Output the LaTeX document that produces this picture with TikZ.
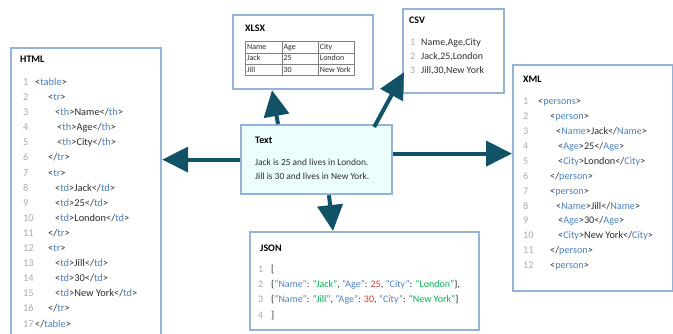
\documentclass[tikz,border=0pt]{standalone}
\usepackage{fontspec}
\setmainfont{Carlito}
\usepackage{colortbl}
\usetikzlibrary{arrows.meta, positioning, calc}

\definecolor{boxblue}{RGB}{149,179,215}
\definecolor{arrowteal}{RGB}{17,82,102}
\definecolor{textfill}{RGB}{235,255,255}
\definecolor{tagblue}{RGB}{79,129,189}
\definecolor{numgray}{RGB}{170,170,170}
\definecolor{codegray}{RGB}{45,45,45}
\definecolor{jsgreen}{RGB}{0,176,80}
\definecolor{jsred}{RGB}{200,60,60}

\newcommand{\lno}[2][12pt]{\makebox[#1][l]{\color{numgray}#2}}
\newcommand{\tg}[1]{{\color{tagblue}#1}}
\newcommand{\js}[1]{{\color{tagblue}#1}}
\newcommand{\jv}[1]{{\color{jsgreen}#1}}
\newcommand{\jn}[1]{{\color{jsred}#1}}

\begin{document}
\begin{tikzpicture}[
  x=1pt, y=-1pt,
  fmtbox/.style={draw=boxblue, line width=2.2pt, fill=white, anchor=north west, inner sep=0pt},
  title/.style={anchor=west, inner sep=0pt, font=\fontsize{10}{12}\selectfont\bfseries},
  code/.style={anchor=north west, inner sep=0pt, align=left, text=codegray, font=\fontsize{10.4}{15.1}\selectfont},
  conv/.style={draw=arrowteal, line width=4pt, -{Triangle[length=26pt,width=25pt]}}
]
  \useasboundingbox (0,0) rectangle (673,333);
  \clip (0,0) rectangle (673,333);

  % format boxes
  \node[fmtbox, minimum width=150pt, minimum height=300pt] (html) at (10,47) {};
  \node[fmtbox, minimum width=140pt, minimum height=74pt] (xlsx) at (232,14) {};
  \node[fmtbox, minimum width=101pt, minimum height=84pt] (csv) at (402,8) {};
  \node[fmtbox, minimum width=160pt, minimum height=226pt] (xml) at (512,64) {};
  \node[fmtbox, minimum width=229pt, minimum height=98pt] (json) at (249,231) {};
  \node[fmtbox, fill=textfill, minimum width=151pt, minimum height=69pt] (txt) at (240,124) {};

  % HTML
  \node[title] (htmlttl) at (20,59) {HTML};
  \node[code] (htmlcode) at (23,78) {%
    \lno{1}<\tg{table}>\\
    \lno{2}\hspace*{13pt}<\tg{tr}>\\
    \lno{3}\hspace*{20pt}<\tg{th}>Name</\tg{th}>\\
    \lno{4}\hspace*{22pt}<\tg{th}>Age</\tg{th}>\\
    \lno{5}\hspace*{22pt}<\tg{th}>City</\tg{th}>\\
    \lno{6}\hspace*{13pt}</\tg{tr}>\\
    \lno{7}\hspace*{13pt}<\tg{tr}>\\
    \lno{8}\hspace*{20pt}<\tg{td}>Jack</\tg{td}>\\
    \lno{9}\hspace*{20pt}<\tg{td}>25</\tg{td}>\\
    \lno{10}\hspace*{20pt}<\tg{td}>London</\tg{td}>\\
    \lno{11}\hspace*{13pt}</\tg{tr}>\\
    \lno{12}\hspace*{13pt}<\tg{tr}>\\
    \lno{13}\hspace*{20pt}<\tg{td}>Jill</\tg{td}>\\
    \lno{14}\hspace*{20pt}<\tg{td}>30</\tg{td}>\\
    \lno{15}\hspace*{20pt}<\tg{td}>New York</\tg{td}>\\
    \lno{16}\hspace*{13pt}</\tg{tr}>\\
    \lno{17}</\tg{table}>};

  % XLSX
  \node[title] (xlsxttl) at (245,28) {XLSX};
  \node[anchor=north west, inner sep=0pt, text=codegray, font=\fontsize{8}{11}\selectfont] (xlsxtab) at (245,41) {%
    \arrayrulecolor{gray}\setlength{\tabcolsep}{1.5pt}%
    \begin{tabular}{|>{\raggedright}p{33pt}|>{\raggedright}p{33pt}|>{\raggedright\arraybackslash}p{33pt}|}\hline
      Name & Age & City\\\hline
      Jack & 25 & London\\\hline
      Jill & 30 & New York\\\hline
    \end{tabular}};

  % CSV
  \node[title] (csvttl) at (409,20) {CSV};
  \node[code, font=\fontsize{9.9}{14}\selectfont] (csvcode) at (410,38) {%
    \lno[11pt]{1}Name,Age,City\\
    \lno[11pt]{2}Jack,25,London\\
    \lno[11pt]{3}Jill,30,New York};

  % Text
  \node[title] (txtttl) at (255,140) {Text};
  \node[code, font=\fontsize{9.4}{14}\selectfont] (txtbody) at (255,158.5) {%
    Jack is 25 and lives in London.\\
    Jill is 30 and lives in New York.};

  % XML
  \node[title] (xmlttl) at (523,79) {XML};
  \node[code, font=\fontsize{10.2}{14.9}\selectfont] (xmlcode) at (523,98) {%
    \lno[15pt]{1}<\tg{persons}>\\
    \lno[15pt]{2}\hspace*{12pt}<\tg{person}>\\
    \lno[15pt]{3}\hspace*{18pt}<\tg{Name}>Jack</\tg{Name}>\\
    \lno[15pt]{4}\hspace*{20pt}<\tg{Age}>25</\tg{Age}>\\
    \lno[15pt]{5}\hspace*{20pt}<\tg{City}>London</\tg{City}>\\
    \lno[15pt]{6}\hspace*{12pt}</\tg{person}>\\
    \lno[15pt]{7}\hspace*{12pt}<\tg{person}>\\
    \lno[15pt]{8}\hspace*{18pt}<\tg{Name}>Jill</\tg{Name}>\\
    \lno[15pt]{9}\hspace*{20pt}<\tg{Age}>30</\tg{Age}>\\
    \lno[15pt]{10}\hspace*{20pt}<\tg{City}>New York</\tg{City}>\\
    \lno[15pt]{11}\hspace*{12pt}</\tg{person}>\\
    \lno[15pt]{12}\hspace*{12pt}<\tg{person}>};

  % JSON
  \node[title] (jsonttl) at (260,248) {JSON};
  \node[code, font=\fontsize{10}{15.2}\selectfont] (jsoncode) at (258,265) {%
    \lno[13pt]{1}[\\
    \lno[13pt]{2}\{\js{“Name”}: \jv{“Jack”}, \js{“Age”}: \jn{25}, \js{“City”}: \jv{“London”}\},\\
    \lno[13pt]{3}\{\js{“Name”}: \jv{“Jill”}, \js{“Age”}: \jn{30}, \js{“City”}: \jv{“New York”}\}\\
    \lno[13pt]{4}]};

  % conversions
  \draw[conv] (txt.west) -- (txt.west -| html.east);
  \draw[conv] ([yshift=6pt]txt.east) -- ([yshift=6pt]txt.east -| xml.west);
  \draw[conv] ([xshift=38pt]txt.north west) -- ([xshift=40pt]xlsx.south west);
  \draw[conv] ([xshift=-19pt,yshift=-3pt]txt.north east) -- ([xshift=2pt,yshift=22pt]csv.south west);
  \draw[conv] ([xshift=89pt]txt.south west) -- ([xshift=84pt]json.north west);
\end{tikzpicture}
\end{document}
